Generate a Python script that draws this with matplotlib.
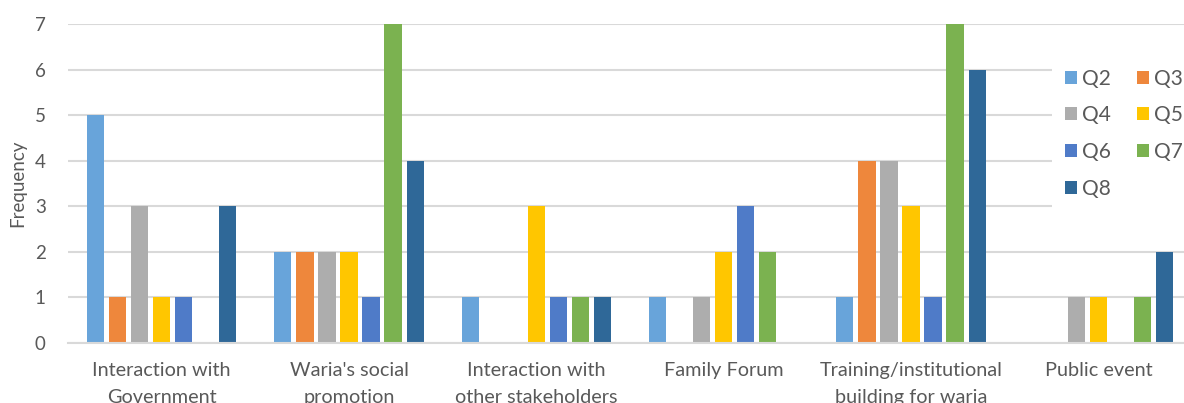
import matplotlib.pyplot as plt
import numpy as np

categories = ['Interaction with\nGovernment', "Waria's social\npromotion",
              'Interaction with\nother stakeholders', 'Family Forum',
              'Training/institutional\nbuilding for waria', 'Public event']
series = ['Q2', 'Q3', 'Q4', 'Q5', 'Q6', 'Q7', 'Q8']
q2 = [5, 2, 1, 1, 1, 0]
q3 = [1, 2, 0, 0, 4, 0]
q4 = [3, 2, 0, 1, 4, 1]
q5 = [1, 2, 3, 2, 3, 1]
q6 = [1, 1, 1, 3, 1, 0]
q7 = [0, 7, 1, 2, 7, 1]
q8 = [3, 4, 1, 0, 6, 2]
values = [q2, q3, q4, q5, q6, q7, q8]
colors = ['#68A4DA', '#EE873C', '#ADADAD', '#FFC600', '#4F7BC8', '#7BB250', '#2F6898']

plt.rcParams['font.family'] = ['Lato', 'DejaVu Sans']
text_color = '#595959'

fig = plt.figure(figsize=(11.84, 4.03), dpi=100)
ax = fig.add_axes([68 / 1184, 60 / 403, 1124 / 1184, 319 / 403])

x = np.arange(len(categories))
step = 0.1175
width = 0.091
handles = []
for i, (name, vals) in enumerate(zip(series, values)):
    h = ax.bar(x + (i - 3) * step, vals, width, color=colors[i], label=name, zorder=2)
    handles.append(h)

ax.set_xlim(-0.5, len(categories) - 0.5)
ax.set_ylim(0, 7)
ax.set_yticks(range(0, 8))
ax.set_xticks(x)
ax.set_xticklabels(categories, fontsize=14.3, color=text_color, linespacing=1.7)
ax.tick_params(axis='x', length=0, pad=14)
ax.tick_params(axis='y', length=0, pad=16, labelsize=13.5, labelcolor=text_color)
ax.set_ylabel('Frequency', fontsize=13.5, color=text_color, labelpad=6)

ax.grid(True, axis='y', color='#D9D9D9', linewidth=1.5, zorder=0)
for s in ['top', 'right', 'left']:
    ax.spines[s].set_visible(False)
ax.spines['bottom'].set_color('#D9D9D9')
ax.spines['bottom'].set_linewidth(1.5)

# row-wise legend order in two columns
order = [0, 2, 4, 6, 1, 3, 5]
leg = fig.legend([handles[i] for i in order], [series[i] for i in order],
                 ncol=2, loc='upper left', bbox_to_anchor=(1052 / 1184, 1 - 56 / 403),
                 fontsize=15, frameon=True, facecolor='white', edgecolor='none',
                 framealpha=1, fancybox=False, handlelength=0.58, handleheight=0.58,
                 handletextpad=0.25, columnspacing=1.25, labelspacing=0.8,
                 borderpad=0.6, borderaxespad=0)
for t in leg.get_texts():
    t.set_color(text_color)

plt.savefig('out.png', dpi=100)
